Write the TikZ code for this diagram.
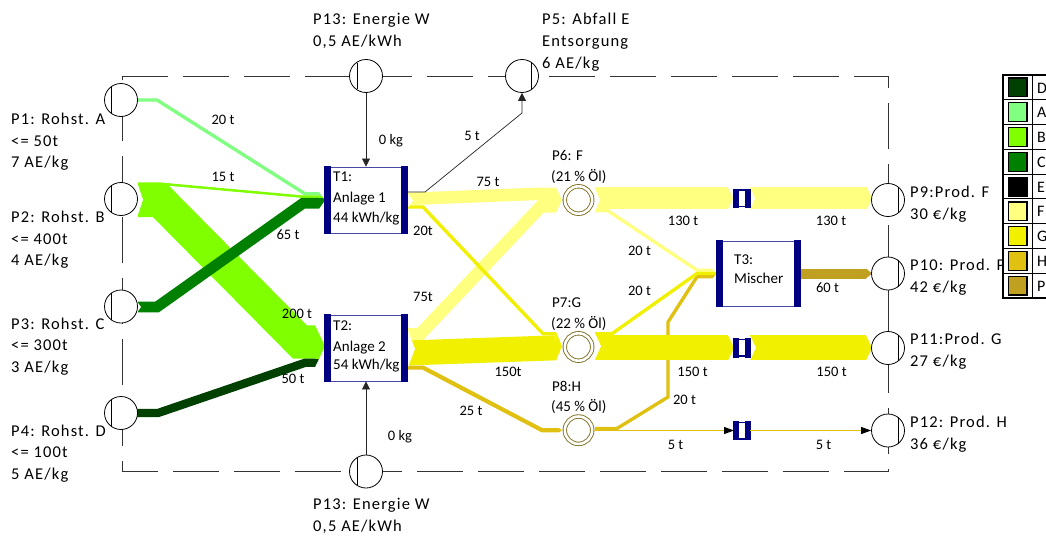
\documentclass[tikz,border=0pt]{standalone}
\usepackage{fontspec}
\setmainfont{Carlito}
\newfontfamily\lbf[LetterSpace=7]{Carlito}
\usetikzlibrary{arrows.meta}
\definecolor{cD}{HTML}{004000}
\definecolor{cA}{HTML}{80FF80}
\definecolor{cB}{HTML}{80FF00}
\definecolor{cC}{HTML}{008000}
\definecolor{cE}{HTML}{000000}
\definecolor{cF}{HTML}{FFFF80}
\definecolor{cG}{HTML}{F0F000}
\definecolor{cH}{HTML}{E0C010}
\definecolor{cP}{HTML}{C0A020}
\definecolor{navy}{HTML}{000080}
\definecolor{boxline}{HTML}{4848A8}
\definecolor{olivering}{HTML}{807020}
\newcommand{\chord}[2]{\draw[line width=0.8pt] (#1.center) ++(#2,-13.1) -- ++(0,26.2);}
\newcommand{\tbars}[1]{%
  \fill[navy] ([xshift=-0.45pt,yshift=-0.45pt]#1.south west) rectangle ([xshift=6pt,yshift=0.45pt]#1.north west);
  \fill[navy] ([xshift=-6pt,yshift=-0.45pt]#1.south east) rectangle ([xshift=0.45pt,yshift=0.45pt]#1.north east);}
\newcommand{\midbox}[2]{%
  \node[mbox] (#1) at (742,#2) {};
  \fill[navy] ([xshift=-0.7pt,yshift=-0.7pt]#1.south west) rectangle ([xshift=5pt,yshift=0.7pt]#1.north west);
  \fill[navy] ([xshift=-5pt,yshift=-0.7pt]#1.south east) rectangle ([xshift=0.7pt,yshift=0.7pt]#1.north east);}
\begin{document}
\begin{tikzpicture}[x=1pt,y=-1pt,
  fl/.style={line width=#1*0.16667pt, line cap=butt, line join=miter},
  pc/.style={circle, draw=black, fill=white, line width=0.8pt, minimum size=33pt, inner sep=0pt},
  dc/.style={circle, draw=olivering, double=white, double distance=2.6pt, line width=0.9pt, fill=white, minimum size=27.4pt, inner sep=0pt},
  tbox/.style={draw=boxline, line width=0.9pt, fill=white, minimum width=82pt, minimum height=66pt, inner sep=0pt},
  mbox/.style={draw=navy, line width=1.4pt, fill=white, minimum width=14.6pt, minimum height=16.6pt, inner sep=0pt},
  cl/.style={draw=black!85, line width=0.7pt},
  arr/.style={cl, -{Triangle[length=8pt,width=8pt]}},
  big/.style={font=\lbf\fontsize{16.5}{20}\selectfont, inner sep=0pt, anchor=base west},
  sm/.style={font=\fontsize{14.5}{17}\selectfont, inner sep=0pt, anchor=base},
  tt/.style={font=\fontsize{15}{18}\selectfont, inner sep=0pt, anchor=base west},
  lg/.style={font=\fontsize{16}{19}\selectfont, inner sep=0pt, anchor=base west},
]
\useasboundingbox (0,0) rectangle (1046,538);
\fill[white] (0,0) rectangle (1046,538);

% system boundary
\draw[black!80, line width=0.8pt, dash pattern=on 46pt off 15pt] (122,76) -- (888,76) -- (888,471) -- (122,471) -- cycle;

% ---- inputs to T1 and T2
\draw[fl=20, cA] (137,100) -- (157,100) -- (305,193.8) -- (319,193.8);
\draw[fl=15, cB] (138,183.5) -- (158,183.5) -- (303,196.7) -- (319,196.7);
\draw[fl=200, cB] (138,200.5) -- (160,200.5) -- (300,342) -- (315,342);
\draw[fl=65, cC] (138,307) -- (157,307) -- (303,203.3) -- (319,203.3);
\draw[fl=50, cD] (137,413) -- (158,413) -- (305,362.8) -- (315,362.8);
\begin{scope}
  \clip (319,192.1) -- (325,200.4) -- (319,208.7) -- cycle;
  \fill[cA] (318,192.1) rectangle (326,195.5);
  \fill[cB] (318,195.5) rectangle (326,197.9);
  \fill[cC] (318,197.9) rectangle (326,208.7);
\end{scope}
\begin{scope}
  \clip (315,325.3) -- (325,346.2) -- (315,367) -- cycle;
  \fill[cB] (314,325.3) rectangle (326,358.7);
  \fill[cD] (314,358.7) rectangle (326,367);
\end{scope}
\fill[white] (137,182) -- (143,199.7) -- (137,217.4) -- cycle;
\fill[white] (137,301.5) -- (141,307) -- (137,312.5) -- cycle;

% ---- outputs of T1 and T2
\draw[fl=75, cF] (407,199) -- (540,193.75) -- (556,193.75);
\draw[fl=75, cF] (407,334.25) -- (420,334.25) -- (541,206.25) -- (556,206.25);
\draw[fl=20, cG] (407,207) -- (423,207) -- (543,333.7) -- (556,333.7);
\draw[fl=150, cG] (407,353) -- (556,347.8);
\draw[fl=25, cH] (407,367.6) -- (423,367.6) -- (542,430.2) -- (559,430.2);
\fill[cF] (556,187.5) -- (562,200) -- (556,212.5) -- cycle;
\fill[cG] (556,332) -- (562,346.2) -- (556,360.3) -- cycle;
\fill[cH] (559,428.1) -- (562,430.2) -- (559,432.3) -- cycle;
\fill[white] (407,192.8) -- (413,200.7) -- (407,208.6) -- cycle;
\fill[white] (407,328) -- (415,348.9) -- (407,369.7) -- cycle;

% ---- outputs of P6, P7, P8
\draw[fl=20, cH] (595,428.5) -- (617,428.5) -- (668,397) -- (668,322) -- (697,276.8) -- (712,276.8);
\draw[fl=130, cF] (595,198.3) -- (728,198.3);
\fill[cF] (728,187.5) -- (733,198.3) -- (728,209.2) -- cycle;
\draw[fl=130, cF] (750,198.3) -- (867,198.3);
\fill[cF] (867,187.5) -- (872,198.3) -- (867,209.2) -- cycle;
\fill[white] (750,187.3) -- (755,198.3) -- (750,209.4) -- cycle;
\draw[fl=20, cF] (595,210.8) -- (608,210.8) -- (697,270.2) -- (712,270.2);
\fill[white] (594.5,187.5) -- (600,200) -- (594.5,212.5) -- cycle;
\draw[fl=20, cG] (595,333.7) -- (612,333.7) -- (697,273.5) -- (712,273.5);
\draw[fl=150, cG] (595,347.8) -- (728,347.8);
\fill[cG] (728,335.3) -- (734,347.8) -- (728,360.3) -- cycle;
\draw[fl=150, cG] (750,347.8) -- (866,347.8);
\fill[cG] (866,335.3) -- (872,347.8) -- (866,360.3) -- cycle;
\fill[white] (750,335.3) -- (756,347.8) -- (750,360.3) -- cycle;
\fill[white] (594.5,332) -- (601,346.2) -- (594.5,360.3) -- cycle;
\begin{scope}
  \clip (712,268.5) -- (717,273.5) -- (712,278.5) -- cycle;
  \fill[cF] (711,268.5) rectangle (718,271.8);
  \fill[cG] (711,271.8) rectangle (718,275.2);
  \fill[cH] (711,275.2) rectangle (718,278.5);
\end{scope}
\draw[fl=60, cP] (800,273.5) -- (866,273.5);
\fill[cP] (866,268.5) -- (872,273.5) -- (866,278.5) -- cycle;

% ---- nodes
\node[pc] (P1) at (121,100) {}; \chord{P1}{-10}
\node[pc] (P2) at (121,199) {}; \chord{P2}{-10}
\node[pc] (P3) at (121,306.5) {}; \chord{P3}{-10}
\node[pc] (P4) at (121,413) {}; \chord{P4}{-10}
\node[pc] (P13a) at (366,76) {}; \chord{P13a}{-9}
\node[pc] (P5) at (522,76) {}; \chord{P5}{9}
\node[pc] (P13b) at (366,471.5) {}; \chord{P13b}{-9}
\node[pc] (P9) at (888,200) {}; \chord{P9}{10}
\node[pc] (P10) at (888,273.5) {}; \chord{P10}{10}
\node[pc] (P11) at (888,348) {}; \chord{P11}{10}
\node[pc] (P12) at (888,430.5) {}; \chord{P12}{10}
\node[dc] (P6) at (578.5,200) {};
\node[dc] (P7) at (578.5,347) {};
\node[dc] (P8) at (578.5,430.2) {};
\node[tbox] (T1) at (366,200) {}; \tbars{T1}
\node[tbox] (T2) at (366,348) {}; \tbars{T2}
\node[tbox, minimum width=83pt, minimum height=65pt] (T3) at (758.5,273.5) {}; \tbars{T3}
\midbox{M1}{198.3}
\midbox{M2}{347.8}
\midbox{M3}{430.5}

% thin connectors
\draw[arr] (P13a) -- (T1);
\draw[arr] (P13b) -- (T2);
\draw[arr] (407,192) -- (425,192) -- (522,113) -- (P5);
\draw[cH, line width=0.9pt, -{Triangle[length=10pt,width=7pt,color=black]}] (P8.east |- 0,430.5) -- (M3.west);
\draw[cH, line width=0.9pt, -{Triangle[length=10pt,width=7pt,color=black]}] (M3.east) -- (P12.west);

% ---- labels of nodes
\node[big] (l1a) at (11,124) {P1: Rohst. A};
\node[big] (l1b) at (11,146) {<= 50t};
\node[big] (l1c) at (11,167.5) {7 AE/kg};
\node[big] (l2a) at (11,222.5) {P2: Rohst. B};
\node[big] (l2b) at (11,244) {<= 400t};
\node[big] (l2c) at (11,265.5) {4 AE/kg};
\node[big] (l3a) at (11,329) {P3: Rohst. C};
\node[big] (l3b) at (11,350.5) {<= 300t};
\node[big] (l3c) at (11,372) {3 AE/kg};
\node[big] (l4a) at (11,436) {P4: Rohst. D};
\node[big] (l4b) at (11,457.5) {<= 100t};
\node[big] (l4c) at (11,479) {5 AE/kg};
\node[big] (l13a) at (313,24) {P13: Energie W};
\node[big] (l13b) at (313,46) {0,5 AE/kWh};
\node[big] (l5a) at (542,24) {P5: Abfall E};
\node[big] (l5b) at (542,46) {Entsorgung};
\node[big] (l5c) at (542,68) {6 AE/kg};
\node[big] (l13c) at (313,509) {P13: Energie W};
\node[big] (l13d) at (313,531) {0,5 AE/kWh};
\node[big] (l9a) at (910,197) {P9:Prod. F};
\node[big] (l9b) at (910,219) {30 €/kg};
\node[big] (l10a) at (910,270.5) {P10: Prod. P};
\node[big] (l10b) at (910,292.5) {42 €/kg};
\node[big] (l11a) at (910,344) {P11:Prod. G};
\node[big] (l11b) at (910,366) {27 €/kg};
\node[big] (l12a) at (910,427) {P12: Prod. H};
\node[big] (l12b) at (910,449) {36 €/kg};
\node[tt] (t1a) at (333,181) {T1:};
\node[tt] (t1b) at (333,202) {Anlage 1};
\node[tt] (t1c) at (333,222.5) {44 kWh/kg};
\node[tt] (t2a) at (333,330) {T2:};
\node[tt] (t2b) at (333,351.5) {Anlage 2};
\node[tt] (t2c) at (333,369) {54 kWh/kg};
\node[tt] (t3a) at (734,264) {T3:};
\node[tt] (t3b) at (734,283.5) {Mischer};
\node[tt] (l6a) at (552,160.7) {P6: F};
\node[tt] (l6b) at (551,181) {(21 \% Öl)};
\node[tt] (l7a) at (552,307.7) {P7:G};
\node[tt] (l7b) at (551,328.3) {(22 \% Öl)};
\node[tt] (l8a) at (552,391.7) {P8:H};
\node[tt] (l8b) at (551,411) {(45 \% Öl)};

% ---- flow labels
\node[sm] (f1) at (223,124) {20 t};
\node[sm] (f2) at (223,181) {15 t};
\node[sm] (f3) at (288,239) {65 t};
\node[sm] (f4) at (297,318) {200 t};
\node[sm] (f5) at (293,383) {50 t};
\node[sm] (f6) at (391,144) {0 kg};
\node[sm] (f7) at (472,140.7) {5 t};
\node[sm] (f8) at (488,186) {75 t};
\node[sm] (f9) at (423,235) {20t};
\node[sm] (f10) at (423,301) {75t};
\node[sm] (f11) at (508,376) {150t};
\node[sm] (f12) at (471,415.7) {25 t};
\node[sm] (f13) at (400,440.7) {0 kg};
\node[sm] (f14) at (683,225.7) {130 t};
\node[sm] (f15) at (831,225.7) {130 t};
\node[sm] (f16) at (639.5,255.7) {20 t};
\node[sm] (f17) at (639.5,295.7) {20 t};
\node[sm] (f18) at (827.5,292.7) {60 t};
\node[sm] (f19) at (692.5,376) {150 t};
\node[sm] (f20) at (831.5,376) {150 t};
\node[sm] (f21) at (684.5,404) {20 t};
\node[sm] (f22) at (675.5,449) {5 t};
\node[sm] (f23) at (823.5,449) {5 t};

% ---- legend
\fill[white] (1003,75) rectangle (1060,298);
\foreach \i in {1,...,8} \draw[black, line width=1pt] (1003,{75+24.78*\i}) -- (1060,{75+24.78*\i});
\draw[black, line width=1pt] (1032,75) -- (1032,298);
\draw[black, line width=1.2pt] (1003,75) rectangle (1060,298);
\foreach \c [count=\i from 0] in {cD,cA,cB,cC,cE,cF,cG,cH,cP}
  \filldraw[fill=\c, draw=black, line width=1.2pt] (1008.5,{75+24.78*\i+3}) rectangle (1027,{75+24.78*\i+21.8});
\foreach \l [count=\i from 0] in {D,A,B,C,E,F,G,H,P}
  \node[lg] (L\i) at (1037,{75+24.78*\i+18}) {\l};
\end{tikzpicture}
\end{document}
